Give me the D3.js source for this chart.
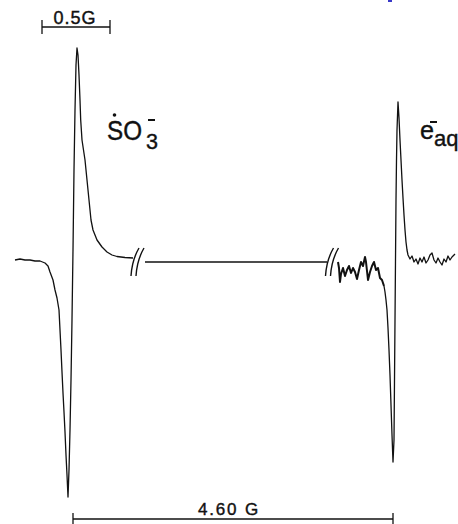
<!DOCTYPE html>
<html>
<head>
<meta charset="utf-8">
<script src="https://cdn.jsdelivr.net/npm/d3@7"></script>
<style>
  html, body { margin: 0; padding: 0; background: #fff; }
  svg { display: block; }
  text { font-family: "Liberation Sans", Arial, sans-serif; fill: #111; stroke: #111; stroke-width: 0.4px; }
</style>
</head>
<body>
<div id="chart"></div>
<script>
// Field in arbitrary sweep units (0.5 G = 13.6 units), signal in arbitrary units (derivative EPR)
const so3Trace = [
  [0,1],[1,1.5],[2,1],[3,1],[4,0.5],[5,0.5],[6,-0.5],[6.6,-2],[7,-5],[7.6,-9],[8,-14],[8.4,-18],
  [8.8,-24],[9,-34],[9.2,-44],[9.4,-55],[9.6,-65.5],[9.8,-75],[10,-85],[10.2,-96.5],[10.4,-106.5],
  [10.6,-117.5],[10.8,-104],[11,-84],[11.2,-59],[11.4,-29],[11.6,6],[11.8,46],[12,76],[12.2,98.5],
  [12.4,107],[12.6,103.5],[12.8,93.5],[13,81],[13.14,71],[13.4,61],[14,51],[14.4,41],[14.8,31],
  [15.2,21],[15.6,16],[16.4,11],[17.4,7.5],[18.4,5],[19.4,3.5],[20.4,2.75],[22,2.25],[23.6,2]
];
const gapTrace = [[26,0],[62.4,0]];
const noiseTrace = [
  [64.6,0],[64.8,-3],[65,-10],[65.2,-6],[65.6,-3],[66,-7],[66.4,-4],[66.8,-2],[67.2,-5.5],[67.6,-3],
  [68,-5],[68.4,-8.5],[68.8,-4],[69.2,0],[69.6,-2],[70,2.5],[70.2,0],[70.6,-9],[71,-5],[71.4,-2],
  [71.8,0],[72.2,-4],[72.6,-3],[73,-8],[73.4,-9],[73.8,-12]
];
const eaqTrace = [
  [73.8,-12],[74,-15],[74.2,-19],[74.4,-24],[74.6,-33],[74.8,-44],[75,-56.5],[75.2,-71.5],[75.4,-86.5],
  [75.6,-100],[75.8,-89],[75.9,-59],[76,-29],[76.1,1],[76.2,31],[76.3,51],[76.4,66],[76.6,80],
  [76.8,72],[77,61],[77.2,51],[77.4,41],[77.6,32],[77.8,23.5],[78,16],[78.2,10],[78.4,6],[78.6,3.5],
  [79,1.5],[79.4,3],[79.8,0],[80.2,1.5],[80.6,-1],[81,2],[81.4,0],[81.8,2.5],[82.2,-0.5],[82.6,1],
  [83,3.5],[83.4,4.5],[83.8,1],[84.2,-0.5],[84.6,2],[85,0],[85.4,-1.5],[85.8,1.5],[86.2,0],[86.6,3],
  [87,1],[87.4,2.5],[88,4]
];
const breakPositions = [24.5, 63.4];
// scale bars: start, end, level, label
const scaleBarsStart = [5.4, 11.6];
const scaleBarsEnd = [19, 75.6];
const scaleBarsLevel = [117.5, -128.5];
const scaleBarsLabel = ["0.5G", "4.60 G"];

const W = 458, H = 524;
const svg = d3.select("#chart").append("svg").attr("width", W).attr("height", H);
const x = d3.scaleLinear().domain([0, 88]).range([15, 455]);
const y = d3.scaleLinear().domain([-128.5, 117.5]).range([519, 27]);
const line = d3.line().x(d => x(d[0])).y(d => y(d[1]));

const traces = [
  {d: so3Trace, w: 1.3},
  {d: gapTrace, w: 1.4},
  {d: noiseTrace, w: 2.0},
  {d: eaqTrace, w: 1.3}
];
svg.selectAll("path.trace").data(traces).join("path")
  .attr("class", "trace")
  .attr("d", t => line(t.d))
  .attr("fill", "none").attr("stroke", "#111")
  .attr("stroke-width", t => t.w)
  .attr("stroke-linejoin", "round");

// break marks "(("
breakPositions.forEach(b => {
  [-2.5, 2.5].forEach(off => {
    const cx = x(b) + off, cy = y(0);
    const p = d3.path();
    p.moveTo(cx - 4, cy + 14);
    p.quadraticCurveTo(cx - 3, cy - 2, cx + 4, cy - 14);
    svg.append("path").attr("d", p.toString()).attr("fill", "none")
      .attr("stroke", "#111").attr("stroke-width", 1.4);
  });
});

// scale bars
scaleBarsLabel.forEach((lab, i) => {
  const x0 = x(scaleBarsStart[i]), x1 = x(scaleBarsEnd[i]), yy = y(scaleBarsLevel[i]);
  const g = svg.append("g");
  g.append("line").attr("x1", x0).attr("x2", x1).attr("y1", yy).attr("y2", yy)
    .attr("stroke", "#111").attr("stroke-width", 1.5);
  const tk = i === 0 ? 7 : 6;
  [x0, x1].forEach(xx => g.append("line").attr("x1", xx).attr("x2", xx)
    .attr("y1", yy - tk).attr("y2", yy + tk).attr("stroke", "#111").attr("stroke-width", 1.3));
  g.append("text")
    .attr("x", i === 0 ? (x0 + x1) / 2 - 1 : 229)
    .attr("y", yy - (i === 0 ? 3 : 4))
    .attr("text-anchor", "middle")
    .attr("font-size", i === 0 ? 18 : 17)
    .attr("letter-spacing", i === 0 ? 1 : 1.8)
    .text(lab);
});

// SO3- label
svg.append("text").attr("x", 107).attr("y", 140).attr("font-size", 28)
  .attr("textLength", 35).attr("lengthAdjust", "spacingAndGlyphs").text("SO");
svg.append("circle").attr("cx", 114.5).attr("cy", 115).attr("r", 1.8).attr("fill", "#111");
svg.append("text").attr("x", 146).attr("y", 149).attr("font-size", 22)
  .attr("textLength", 12).attr("lengthAdjust", "spacingAndGlyphs").text("3");
svg.append("line").attr("x1", 148).attr("x2", 155).attr("y1", 120).attr("y2", 120)
  .attr("stroke", "#111").attr("stroke-width", 2);

// e- aq label
svg.append("text").attr("x", 420).attr("y", 139).attr("font-size", 26)
  .attr("textLength", 14).attr("lengthAdjust", "spacingAndGlyphs").text("e");
svg.append("text").attr("x", 434).attr("y", 146).attr("font-size", 22).text("aq");
svg.append("line").attr("x1", 430).attr("x2", 437).attr("y1", 122).attr("y2", 122)
  .attr("stroke", "#111").attr("stroke-width", 2);

// small blue artifact at top edge
svg.append("rect").attr("x", 388).attr("y", 0).attr("width", 4).attr("height", 2).attr("fill", "#3838c8");
</script>
</body>
</html>
